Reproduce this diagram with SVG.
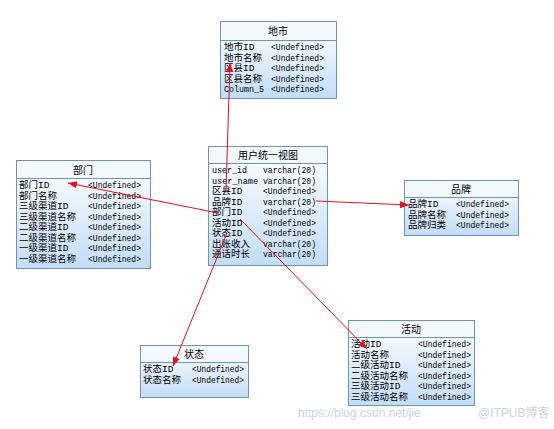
<svg xmlns="http://www.w3.org/2000/svg" width="554" height="429" viewBox="0 0 554 429">
<defs>
<linearGradient id="g" x1="0" y1="0" x2="0" y2="1">
<stop offset="0" stop-color="#ffffff"/>
<stop offset="1" stop-color="#c2ddf7"/>
</linearGradient>
<marker id="ah" viewBox="0 0 10 10" refX="10" refY="5" markerWidth="9" markerHeight="9" markerUnits="userSpaceOnUse" orient="auto">
<path d="M0,1 L10,5 L0,9 Z" fill="#e8101a"/>
</marker>
<style>
.box{fill:url(#g);stroke:#6f93b8;stroke-width:1}
.hd{fill:#f4f9fe;stroke:#6f93b8;stroke-width:1}
.t{font-family:"Liberation Mono","Noto Sans CJK SC",monospace;font-size:9.5px;fill:#000}
.h{font-family:"Noto Sans CJK SC","Liberation Sans",sans-serif;font-size:10px;fill:#000;text-anchor:middle}
.c{fill:none;stroke:#e8101a;stroke-width:1}
.wm{font-family:"Liberation Sans","Noto Sans CJK SC",sans-serif;font-size:12px;fill:#d0d4d8}
</style>
</defs>
<rect width="554" height="429" fill="#ffffff"/>

<g id="node-dishi">
<rect class="box" x="220.5" y="21.5" width="116" height="77"/>
<rect class="hd" x="220.5" y="21.5" width="116" height="19"/>
<text class="h" x="278" y="35">地市</text>
<text class="t" x="224" y="50">地市ID</text><text class="t" x="271" y="50" textLength="53" lengthAdjust="spacingAndGlyphs">&lt;Undefined&gt;</text>
<text class="t" x="224" y="60.5">地市名称</text><text class="t" x="271" y="60.5" textLength="53" lengthAdjust="spacingAndGlyphs">&lt;Undefined&gt;</text>
<text class="t" x="224" y="71">区县ID</text><text class="t" x="271" y="71" textLength="53" lengthAdjust="spacingAndGlyphs">&lt;Undefined&gt;</text>
<text class="t" x="224" y="81.5">区县名称</text><text class="t" x="271" y="81.5" textLength="53" lengthAdjust="spacingAndGlyphs">&lt;Undefined&gt;</text>
<text class="t" x="224" y="92" textLength="40" lengthAdjust="spacingAndGlyphs">Column_5</text><text class="t" x="271" y="92" textLength="53" lengthAdjust="spacingAndGlyphs">&lt;Undefined&gt;</text>
</g>

<g id="node-view">
<rect class="box" x="208.5" y="146.5" width="119" height="119"/>
<rect class="hd" x="208.5" y="146.5" width="119" height="17"/>
<text class="h" x="268" y="159">用户统一视图</text>
<text class="t" x="212" y="173" textLength="35" lengthAdjust="spacingAndGlyphs">user_id</text><text class="t" x="263" y="173" textLength="53" lengthAdjust="spacingAndGlyphs">varchar(20)</text>
<text class="t" x="212" y="183.5" textLength="46" lengthAdjust="spacingAndGlyphs">user_name</text><text class="t" x="263" y="183.5" textLength="53" lengthAdjust="spacingAndGlyphs">varchar(20)</text>
<text class="t" x="212" y="194">区县ID</text><text class="t" x="263" y="194" textLength="53" lengthAdjust="spacingAndGlyphs">&lt;Undefined&gt;</text>
<text class="t" x="212" y="204.5">品牌ID</text><text class="t" x="263" y="204.5" textLength="53" lengthAdjust="spacingAndGlyphs">varchar(20)</text>
<text class="t" x="212" y="215">部门ID</text><text class="t" x="263" y="215" textLength="53" lengthAdjust="spacingAndGlyphs">&lt;Undefined&gt;</text>
<text class="t" x="212" y="225.5">活动ID</text><text class="t" x="263" y="225.5" textLength="53" lengthAdjust="spacingAndGlyphs">&lt;Undefined&gt;</text>
<text class="t" x="212" y="236">状态ID</text><text class="t" x="263" y="236" textLength="53" lengthAdjust="spacingAndGlyphs">&lt;Undefined&gt;</text>
<text class="t" x="212" y="246.5">出账收入</text><text class="t" x="263" y="246.5" textLength="53" lengthAdjust="spacingAndGlyphs">varchar(20)</text>
<text class="t" x="212" y="257">通话时长</text><text class="t" x="263" y="257" textLength="53" lengthAdjust="spacingAndGlyphs">varchar(20)</text>
</g>

<g id="node-bumen">
<rect class="box" x="16.5" y="160.5" width="134" height="108"/>
<rect class="hd" x="16.5" y="160.5" width="134" height="18"/>
<text class="h" x="83" y="173.5">部门</text>
<text class="t" x="19" y="188">部门ID</text><text class="t" x="88" y="188" textLength="53" lengthAdjust="spacingAndGlyphs">&lt;Undefined&gt;</text>
<text class="t" x="19" y="198.5">部门名称</text><text class="t" x="88" y="198.5" textLength="53" lengthAdjust="spacingAndGlyphs">&lt;Undefined&gt;</text>
<text class="t" x="19" y="209">三级渠道ID</text><text class="t" x="88" y="209" textLength="53" lengthAdjust="spacingAndGlyphs">&lt;Undefined&gt;</text>
<text class="t" x="19" y="219.5">三级渠道名称</text><text class="t" x="88" y="219.5" textLength="53" lengthAdjust="spacingAndGlyphs">&lt;Undefined&gt;</text>
<text class="t" x="19" y="230">二级渠道ID</text><text class="t" x="88" y="230" textLength="53" lengthAdjust="spacingAndGlyphs">&lt;Undefined&gt;</text>
<text class="t" x="19" y="240.5">二级渠道名称</text><text class="t" x="88" y="240.5" textLength="53" lengthAdjust="spacingAndGlyphs">&lt;Undefined&gt;</text>
<text class="t" x="19" y="251">一级渠道ID</text><text class="t" x="88" y="251" textLength="53" lengthAdjust="spacingAndGlyphs">&lt;Undefined&gt;</text>
<text class="t" x="19" y="261.5">一级渠道名称</text><text class="t" x="88" y="261.5" textLength="53" lengthAdjust="spacingAndGlyphs">&lt;Undefined&gt;</text>
</g>

<g id="node-pinpai">
<rect class="box" x="404.5" y="180.5" width="114" height="55"/>
<rect class="hd" x="404.5" y="180.5" width="114" height="17"/>
<text class="h" x="461" y="193">品牌</text>
<text class="t" x="408" y="207">品牌ID</text><text class="t" x="456" y="207" textLength="53" lengthAdjust="spacingAndGlyphs">&lt;Undefined&gt;</text>
<text class="t" x="408" y="217.5">品牌名称</text><text class="t" x="456" y="217.5" textLength="53" lengthAdjust="spacingAndGlyphs">&lt;Undefined&gt;</text>
<text class="t" x="408" y="228">品牌归类</text><text class="t" x="456" y="228" textLength="53" lengthAdjust="spacingAndGlyphs">&lt;Undefined&gt;</text>
</g>

<g id="node-zhuangtai">
<rect class="box" x="140.5" y="345.5" width="108" height="52"/>
<rect class="hd" x="140.5" y="345.5" width="108" height="17"/>
<text class="h" x="194" y="358">状态</text>
<text class="t" x="143" y="372">状态ID</text><text class="t" x="192" y="372" textLength="52" lengthAdjust="spacingAndGlyphs">&lt;Undefined&gt;</text>
<text class="t" x="143" y="382.5">状态名称</text><text class="t" x="192" y="382.5" textLength="52" lengthAdjust="spacingAndGlyphs">&lt;Undefined&gt;</text>
</g>

<g id="node-huodong">
<rect class="box" x="348.5" y="320.5" width="126" height="85"/>
<rect class="hd" x="348.5" y="320.5" width="126" height="17"/>
<text class="h" x="411" y="333">活动</text>
<text class="t" x="351" y="347">活动ID</text><text class="t" x="418" y="347" textLength="53" lengthAdjust="spacingAndGlyphs">&lt;Undefined&gt;</text>
<text class="t" x="351" y="357.5">活动名称</text><text class="t" x="418" y="357.5" textLength="53" lengthAdjust="spacingAndGlyphs">&lt;Undefined&gt;</text>
<text class="t" x="351" y="368">二级活动ID</text><text class="t" x="418" y="368" textLength="53" lengthAdjust="spacingAndGlyphs">&lt;Undefined&gt;</text>
<text class="t" x="351" y="378.5">二级活动名称</text><text class="t" x="418" y="378.5" textLength="53" lengthAdjust="spacingAndGlyphs">&lt;Undefined&gt;</text>
<text class="t" x="351" y="389">三级活动ID</text><text class="t" x="418" y="389" textLength="53" lengthAdjust="spacingAndGlyphs">&lt;Undefined&gt;</text>
<text class="t" x="351" y="399.5">三级活动名称</text><text class="t" x="418" y="399.5" textLength="53" lengthAdjust="spacingAndGlyphs">&lt;Undefined&gt;</text>
</g>

<g id="connectors">
<path class="c" d="M226,191 L230,63" marker-end="url(#ah)"/>
<path class="c" d="M218,213 L68,183" marker-end="url(#ah)"/>
<path class="c" d="M316,201 L409,205" marker-end="url(#ah)"/>
<path class="c" d="M240,219 L367,349" marker-end="url(#ah)"/>
<path class="c" d="M227,233 L173,366" marker-end="url(#ah)"/>
</g>

<text class="wm" x="298" y="417">https://blog.csdn.net/jie</text>
<text class="wm" x="478" y="417">@ITPUB博客</text>
</svg>
